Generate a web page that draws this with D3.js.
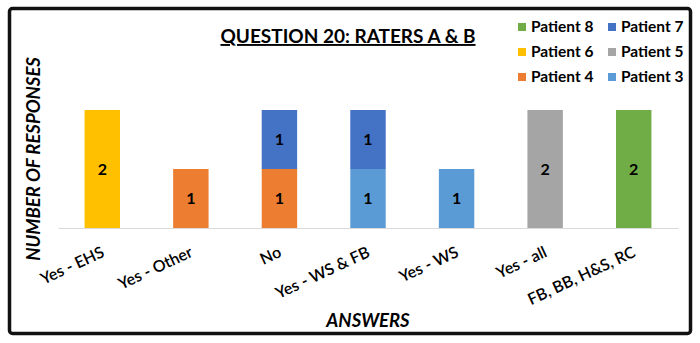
<!DOCTYPE html>
<html>
<head>
<meta charset="utf-8">
<script src="https://cdn.jsdelivr.net/npm/d3@7"></script>
<style>
  html, body { margin: 0; padding: 0; background: #fff; }
  svg { display: block; font-family: Lato, "Open Sans", "DejaVu Sans", sans-serif; }
</style>
</head>
<body>
<svg id="chart" width="700" height="343"></svg>
<script>
// Answer categories along the x axis
const categories = ["Yes - EHS", "Yes - Other", "No", "Yes - WS & FB", "Yes - WS", "Yes - all", "FB, BB, H&S, RC"];

// Patient series (stack order bottom to top)
const seriesNames = ["Patient 3", "Patient 4", "Patient 5", "Patient 6", "Patient 7", "Patient 8"];
const patient3 = [0, 0, 0, 1, 1, 0, 0];
const patient4 = [0, 1, 1, 0, 0, 0, 0];
const patient5 = [0, 0, 0, 0, 0, 2, 0];
const patient6 = [2, 0, 0, 0, 0, 0, 0];
const patient7 = [0, 0, 1, 1, 0, 0, 0];
const patient8 = [0, 0, 0, 0, 0, 0, 2];

// Legend order (two columns)
const legendOrder = ["Patient 8", "Patient 7", "Patient 6", "Patient 5", "Patient 4", "Patient 3"];

const colors = {
  "Patient 3": "#5B9BD5",
  "Patient 4": "#ED7D31",
  "Patient 5": "#A5A5A5",
  "Patient 6": "#FFC000",
  "Patient 7": "#4472C4",
  "Patient 8": "#70AD47"
};

const seriesValues = [patient3, patient4, patient5, patient6, patient7, patient8];
const rows = categories.map((c, i) => {
  const r = { category: c };
  seriesNames.forEach((s, j) => { r[s] = seriesValues[j][i]; });
  return r;
});

const svg = d3.select("#chart");

// Frame
svg.append("rect")
  .attr("x", 9.5).attr("y", 8.5)
  .attr("width", 681).attr("height", 325)
  .attr("rx", 3).attr("ry", 3)
  .attr("fill", "#fff")
  .attr("stroke", "#111").attr("stroke-width", 3.5);

const x = d3.scaleBand()
  .domain(categories)
  .range([58, 678])
  .paddingInner(0.6)
  .paddingOuter(0.3);

const y = d3.scaleLinear().domain([0, 2]).range([228, 110]);

const stacked = d3.stack().keys(seriesNames)(rows);

// Bars
const layers = svg.append("g").selectAll("g")
  .data(stacked)
  .join("g")
  .attr("fill", d => colors[d.key]);

layers.selectAll("rect")
  .data(d => d.filter(p => p[1] - p[0] > 0))
  .join("rect")
  .attr("x", d => x(d.data.category))
  .attr("y", d => y(d[1]))
  .attr("width", x.bandwidth())
  .attr("height", d => y(d[0]) - y(d[1]));

// Value labels
layers.selectAll("text")
  .data(d => d.filter(p => p[1] - p[0] > 0))
  .join("text")
  .attr("x", d => x(d.data.category) + x.bandwidth() / 2)
  .attr("y", d => (y(d[0]) + y(d[1])) / 2)
  .attr("dy", "0.35em")
  .attr("text-anchor", "middle")
  .attr("fill", "#000")
  .attr("font-size", 16)
  .attr("font-weight", 700)
  .text(d => d[1] - d[0]);

// Category axis
const xAxis = svg.append("g")
  .attr("transform", "translate(0,228)")
  .call(d3.axisBottom(x).tickSize(0).tickPadding(0));
xAxis.select(".domain").attr("stroke", "#D9D9D9").attr("stroke-width", 1.2);
xAxis.selectAll("text")
  .attr("font-family", "Lato, 'Open Sans', sans-serif")
  .attr("font-size", 16)
  .attr("font-weight", 600)
  .attr("fill", "#000")
  .attr("text-anchor", "end")
  .attr("dy", 0)
  .attr("transform", "translate(3,28) rotate(-25)")
  .attr("y", 0)
  .attr("x", 0);

// Title
svg.append("text")
  .attr("x", 348).attr("y", 43)
  .attr("text-anchor", "middle")
  .attr("font-size", 19)
  .attr("font-weight", 700)
  .attr("fill", "#000")
  .attr("text-decoration", "underline")
  .text("QUESTION 20: RATERS A & B");

// Axis titles
svg.append("text")
  .attr("transform", "translate(40,159) rotate(-90)")
  .attr("text-anchor", "middle")
  .attr("font-size", 18.5)
  .attr("font-weight", 700)
  .attr("font-style", "italic")
  .attr("fill", "#000")
  .text("NUMBER OF RESPONSES");

svg.append("text")
  .attr("x", 368).attr("y", 327)
  .attr("text-anchor", "middle")
  .attr("font-size", 18.5)
  .attr("font-weight", 700)
  .attr("font-style", "italic")
  .attr("fill", "#000")
  .text("ANSWERS");

// Legend
const legendItems = svg.append("g").selectAll("g")
  .data(legendOrder)
  .join("g")
  .attr("transform", (d, i) => `translate(${518 + (i % 2) * 90},${27 + Math.floor(i / 2) * 25})`);
legendItems.append("rect")
  .attr("x", 0).attr("y", -4)
  .attr("width", 8).attr("height", 8)
  .attr("fill", d => colors[d]);
legendItems.append("text")
  .attr("x", 13).attr("y", 0)
  .attr("dy", "0.35em")
  .attr("font-size", 15.5)
  .attr("font-weight", 700)
  .attr("fill", "#000")
  .text(d => d);
</script>
</body>
</html>
